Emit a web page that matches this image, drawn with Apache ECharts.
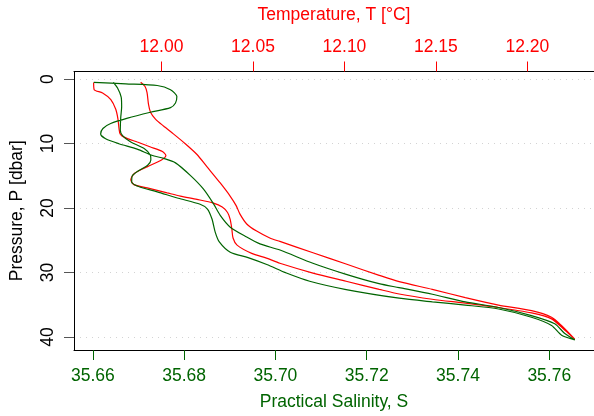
<!DOCTYPE html>
<html>
<head>
<meta charset="utf-8">
<script src="https://cdn.jsdelivr.net/npm/echarts@6/dist/echarts.min.js"></script>
<style>
  html, body { margin: 0; padding: 0; background: #fff; }
  #profileChart { width: 594px; height: 416px; }
</style>
</head>
<body>
<div id="profileChart"></div>
<script>
// temperature profile, one line down then back up: [T, P]
const temperatureDown = [
  [11.9629, 0.52], [11.9632, 1.63], [11.9678, 2.13], [11.9723, 3.16], [11.9750, 4.68],
  [11.9762, 6.20], [11.9768, 7.73], [11.9774, 8.49], [11.9795, 8.99], [11.9868, 9.76],
  [11.9940, 10.52], [12.0005, 11.23], [12.0024, 11.84], [12.0000, 12.53], [11.9924, 13.57],
  [11.9853, 14.59], [11.9832, 15.61], [11.9849, 16.37], [11.9922, 16.88], [12.0031, 17.64],
  [12.0103, 18.14], [12.0194, 18.66], [12.0284, 19.24], [12.0332, 19.85], [12.0361, 20.69],
  [12.0375, 21.71], [12.0384, 23.13], [12.0391, 24.65], [12.0413, 25.76], [12.0493, 27.04],
  [12.0574, 27.77], [12.0647, 28.57], [12.0828, 30.09], [12.1009, 31.36], [12.1190, 32.62],
  [12.1299, 33.34], [12.1480, 34.15], [12.1661, 34.76], [12.1842, 35.43], [12.2023, 36.28],
  [12.2132, 37.20], [12.2205, 38.98], [12.2259, 40.35]
]
const temperatureUp = [
  [12.2186, 38.22], [12.2132, 36.95], [12.2023, 35.93], [12.1842, 35.06], [12.1661, 33.90],
  [12.1480, 32.62], [12.1299, 31.43], [12.1190, 30.44], [12.1009, 28.69], [12.0828, 26.94],
  [12.0647, 25.18], [12.0592, 24.65], [12.0520, 23.58], [12.0466, 22.47], [12.0429, 20.95],
  [12.0408, 19.62], [12.0375, 18.14], [12.0321, 16.11], [12.0248, 13.57], [12.0194, 11.69],
  [12.0130, 10.02], [12.0065, 8.49], [12.0011, 7.27], [11.9967, 6.20], [11.9940, 5.14],
  [11.9929, 3.92], [11.9921, 2.09], [11.9910, 1.13], [11.9886, 0.49]
]

// salinity profile: [S, P]
const salinityDown = [
  [35.6645, 0.49], [35.6654, 1.37], [35.6662, 2.77], [35.6663, 4.30], [35.6661, 5.95],
  [35.6660, 7.88], [35.6665, 8.75], [35.6683, 9.76], [35.6713, 10.78], [35.6726, 11.80],
  [35.6727, 12.56], [35.6720, 13.37], [35.6702, 14.13], [35.6686, 15.05], [35.6685, 15.96],
  [35.6700, 16.65], [35.6741, 17.48], [35.6787, 18.48], [35.6835, 19.42], [35.6851, 20.15],
  [35.6861, 21.71], [35.6868, 23.73], [35.6877, 25.26], [35.6901, 26.86], [35.6940, 27.70],
  [35.6981, 28.77], [35.7024, 30.09], [35.7075, 31.36], [35.7155, 32.65], [35.7271, 33.99],
  [35.7344, 34.56], [35.7416, 35.06], [35.7489, 35.67], [35.7561, 36.95], [35.7605, 38.22],
  [35.7627, 39.74], [35.7656, 40.45]
]
const salinityUp = [
  [35.7634, 39.48], [35.7612, 37.96], [35.7561, 36.69], [35.7489, 35.43], [35.7416, 34.56],
  [35.7344, 33.38], [35.7271, 32.35], [35.7227, 31.74], [35.7155, 30.29], [35.7082, 28.57],
  [35.7010, 26.52], [35.6966, 25.56], [35.6937, 24.50], [35.6901, 22.97], [35.6879, 21.14],
  [35.6864, 19.31], [35.6842, 17.03], [35.6814, 14.97], [35.6781, 12.99], [35.6755, 12.30],
  [35.6729, 11.80], [35.6697, 10.85], [35.6657, 10.02], [35.6628, 9.25], [35.6617, 8.49],
  [35.6622, 7.65], [35.6639, 6.89], [35.6676, 6.05], [35.6726, 5.14], [35.6770, 4.42],
  [35.6781, 3.69], [35.6784, 2.70], [35.6770, 1.63], [35.6741, 0.98], [35.6672, 0.72],
  [35.6602, 0.49]
]

const salinityTicks = [35.66, 35.68, 35.70, 35.72, 35.74, 35.76]
const temperatureTicks = [12.00, 12.05, 12.10, 12.15, 12.20]
const pressureTicks = [0, 10, 20, 30, 40]

const salinityRange = [35.65586, 35.76980]
const temperatureRange = [11.95217, 12.23641]
const pressureRange = [-1.19, 42.03]

const font = 'Liberation Sans, Arial, Helvetica, sans-serif'
const red = '#ff0000'
const green = '#006400'

const chart = echarts.init(document.getElementById('profileChart'))
chart.setOption({
  animation: false,
  backgroundColor: '#fff',
  textStyle: { fontFamily: font },
  grid: { left: 73, top: 71.5, width: 523, height: 283.5, containLabel: false },
  xAxis: [
    {
      type: 'value',
      position: 'bottom',
      min: salinityRange[0],
      max: salinityRange[1],
      name: 'Practical Salinity, S',
      nameLocation: 'middle',
      nameGap: 43,
      nameTextStyle: { color: green, fontSize: 17.5, fontFamily: font },
      axisLine: { show: true, onZero: false, lineStyle: { color: '#000', width: 1 } },
      axisTick: { show: true, length: 10, customValues: salinityTicks, lineStyle: { color: green, width: 1 } },
      axisLabel: {
        customValues: salinityTicks,
        margin: 17,
        color: green,
        fontSize: 17.5,
        fontFamily: font,
        formatter: (v) => v.toFixed(2)
      },
      splitLine: { show: false }
    },
    {
      type: 'value',
      position: 'top',
      min: temperatureRange[0],
      max: temperatureRange[1],
      name: 'Temperature, T [°C]',
      nameLocation: 'middle',
      nameGap: 47,
      nameTextStyle: { color: red, fontSize: 17.5, fontFamily: font },
      axisLine: { show: true, onZero: false, lineStyle: { color: '#000', width: 1 } },
      axisTick: { show: true, length: 10, customValues: temperatureTicks, lineStyle: { color: red, width: 1 } },
      axisLabel: {
        customValues: temperatureTicks,
        margin: 15,
        color: red,
        fontSize: 17.5,
        fontFamily: font,
        formatter: (v) => v.toFixed(2)
      },
      splitLine: { show: false }
    }
  ],
  yAxis: {
    type: 'value',
    inverse: true,
    min: pressureRange[0],
    max: pressureRange[1],
    name: 'Pressure, P [dbar]',
    nameLocation: 'middle',
    nameGap: 48,
    nameTextStyle: { color: '#000', fontSize: 17.5, fontFamily: font },
    axisLine: { show: true, onZero: false, lineStyle: { color: '#000', width: 1 } },
    axisTick: { show: true, length: 10, customValues: pressureTicks, lineStyle: { color: '#555', width: 1 } },
    axisLabel: {
      customValues: pressureTicks,
      rotate: 90,
      margin: 17,
      color: '#000',
      fontSize: 17.5,
      fontFamily: font
    },
    splitLine: { show: true, lineStyle: { color: '#d3d3d3', type: [1, 5], width: 1 } }
  },
  series: [
    {
      name: 'Temperature',
      type: 'line',
      xAxisIndex: 1,
      data: temperatureDown.concat(temperatureUp),
      showSymbol: false,
      smooth: 0.25,
      lineStyle: { color: red, width: 1.2 },
      z: 3
    },
    {
      name: 'Salinity',
      type: 'line',
      xAxisIndex: 0,
      data: salinityDown.concat(salinityUp),
      showSymbol: false,
      smooth: 0.25,
      lineStyle: { color: green, width: 1.2 },
      z: 4
    }
  ]
})
</script>
</body>
</html>
